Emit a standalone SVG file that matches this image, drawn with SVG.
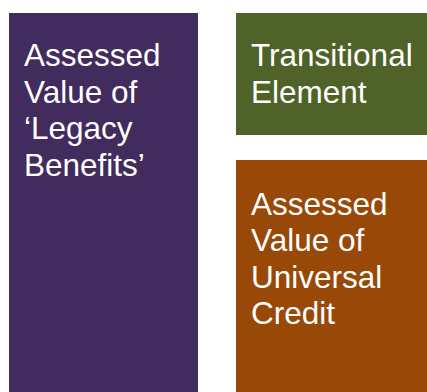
<svg xmlns="http://www.w3.org/2000/svg" width="427" height="392" viewBox="0 0 427 392">
  <style>
    .lbl { font-family: "Liberation Sans", Arial, sans-serif; font-size: 31.5px; fill: #ffffff; }
  </style>
  <rect width="427" height="392" fill="#ffffff"/>
  <g id="legacy-benefits">
    <rect x="9" y="13" width="189" height="379" fill="#412C5D"/>
    <text class="lbl" x="24">
      <tspan x="24" y="66">Assessed</tspan>
      <tspan x="24" y="102.5">Value of</tspan>
      <tspan x="24" y="139">‘Legacy</tspan>
      <tspan x="24" y="175.5">Benefits’</tspan>
    </text>
  </g>
  <g id="transitional-element">
    <rect x="236" y="13" width="191" height="122" fill="#4F6228"/>
    <text class="lbl">
      <tspan x="251" y="66">Transitional</tspan>
      <tspan x="251" y="103">Element</tspan>
    </text>
  </g>
  <g id="universal-credit">
    <rect x="236" y="160" width="191" height="232" fill="#984807"/>
    <text class="lbl">
      <tspan x="251" y="214.5">Assessed</tspan>
      <tspan x="251" y="251">Value of</tspan>
      <tspan x="251" y="287.5">Universal</tspan>
      <tspan x="251" y="324">Credit</tspan>
    </text>
  </g>
  <g id="connectors"/>
</svg>
